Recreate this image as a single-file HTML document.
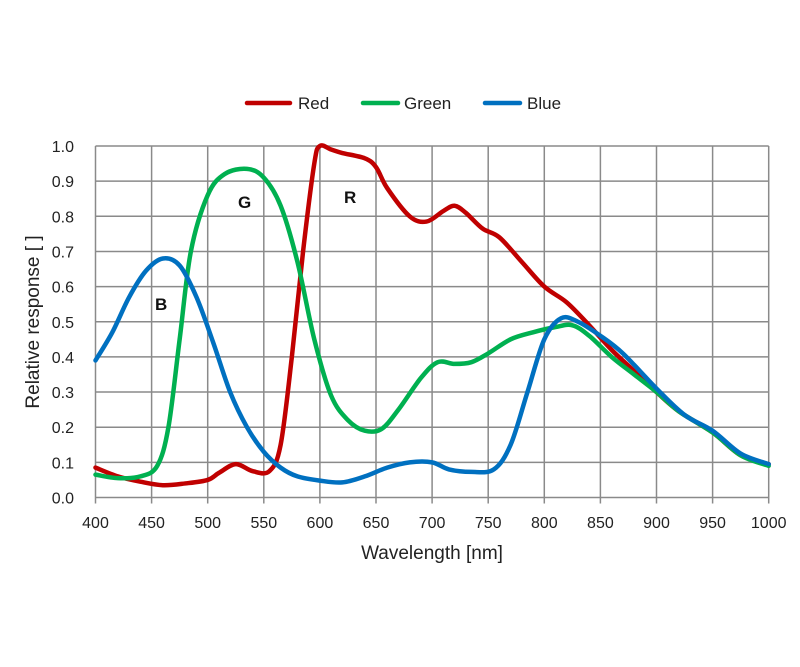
<!DOCTYPE html>
<html><head><meta charset="utf-8"><style>
html,body{margin:0;padding:0;background:#fff;}
svg{display:block;font-family:"Liberation Sans",Arial,sans-serif;}
</style></head><body>
<svg id="s" width="800" height="667" viewBox="0 0 800 667" xmlns="http://www.w3.org/2000/svg">
<g id="grid" stroke="#8a8a8a" stroke-width="1.5" fill="none"></g>
<g id="lab" fill="#222" font-size="16"></g>
<text x="432" y="559" font-size="19" text-anchor="middle" fill="#222">Wavelength [nm]</text>
<text transform="translate(39,322) rotate(-90)" font-size="19" text-anchor="middle" fill="#222">Relative response [ ]</text>
<g stroke-width="4.5" stroke-linecap="round">
<line x1="247" y1="103" x2="290" y2="103" stroke="#c00000"/>
<line x1="363" y1="103" x2="398" y2="103" stroke="#00b050"/>
<line x1="485" y1="103" x2="520" y2="103" stroke="#0070c0"/>
</g>
<g font-size="17" fill="#222">
<text x="298" y="109">Red</text><text x="404" y="109">Green</text><text x="527" y="109">Blue</text>
</g>
<g id="curves" fill="none" stroke-width="4.5" stroke-linejoin="round" stroke-linecap="round"></g>
<g font-size="17" font-weight="bold" fill="#111">
<text x="238" y="208">G</text><text x="344" y="203">R</text><text x="155" y="310">B</text>
</g>
</svg>
<script>
var X=function(w){return 95.5+(w-400)*1.122},Y=function(v){return 497.5-v*351.5};
var ns="http://www.w3.org/2000/svg",g=document.getElementById('grid'),l=document.getElementById('lab');
function el(p,t,a,txt){var e=document.createElementNS(ns,t);for(var k in a)e.setAttribute(k,a[k]);if(txt!=null)e.textContent=txt;p.appendChild(e);return e;}
for(var w=400;w<=1000;w+=50){el(g,'line',{x1:X(w),x2:X(w),y1:Y(1),y2:Y(0)+6});el(l,'text',{x:X(w),y:528,'text-anchor':'middle'},w);}
for(var i=0;i<=10;i++){var v=i/10;el(g,'line',{x1:X(400),x2:X(1000),y1:Y(v),y2:Y(v)});el(l,'text',{x:74,y:Y(v)+6,'text-anchor':'end'},v.toFixed(1));}
function path(d){var p=d.map(function(q){return[X(q[0]),Y(q[1])]});var s='M'+p[0][0]+','+p[0][1];
for(var i=0;i<p.length-1;i++){var p0=p[i-1]||p[i],p1=p[i],p2=p[i+1],p3=p[i+2]||p2;
s+='C'+(p1[0]+(p2[0]-p0[0])/6)+','+(p1[1]+(p2[1]-p0[1])/6)+' '+(p2[0]-(p3[0]-p1[0])/6)+','+(p2[1]-(p3[1]-p1[1])/6)+' '+p2[0]+','+p2[1];}return s;}
var R=[[400,.085],[420,.06],[440,.045],[460,.035],[480,.04],[500,.05],[510,.07],[525,.095],[540,.075],[555,.075],[565,.15],[575,.4],[585,.7],[595,.95],[600,1],[610,.99],[620,.98],[640,.965],[650,.94],[660,.88],[680,.8],[695,.785],[710,.815],[720,.83],[730,.81],[745,.765],[760,.74],[780,.67],[800,.6],[820,.555],[840,.49],[860,.42],[880,.36],[900,.3],[920,.245],[950,.185],[975,.12],[1000,.095]];
var G=[[400,.065],[420,.055],[440,.06],[455,.09],[465,.2],[475,.45],[485,.7],[500,.86],[515,.92],[535,.935],[550,.91],[565,.83],[580,.67],[595,.45],[610,.29],[625,.22],[640,.19],[655,.195],[670,.25],[690,.34],[705,.385],[720,.38],[735,.385],[750,.41],[770,.45],[790,.47],[810,.485],[825,.49],[840,.46],[860,.4],[880,.35],[900,.3],[920,.245],[950,.185],[975,.12],[1000,.09]];
var B=[[400,.39],[415,.47],[430,.57],[445,.645],[460,.68],[475,.66],[490,.57],[505,.44],[520,.3],[535,.2],[550,.13],[565,.085],[580,.06],[600,.048],[620,.043],[640,.06],[660,.085],[680,.1],[700,.1],[715,.08],[735,.073],[755,.08],[770,.15],[785,.3],[800,.45],[815,.51],[830,.5],[850,.46],[870,.41],[900,.31],[925,.235],[950,.19],[975,.125],[1000,.095]];
var c=document.getElementById('curves');
el(c,'path',{d:path(R),stroke:'#c00000'});el(c,'path',{d:path(G),stroke:'#00b050'});el(c,'path',{d:path(B),stroke:'#0070c0'});
</script>
</body></html>
